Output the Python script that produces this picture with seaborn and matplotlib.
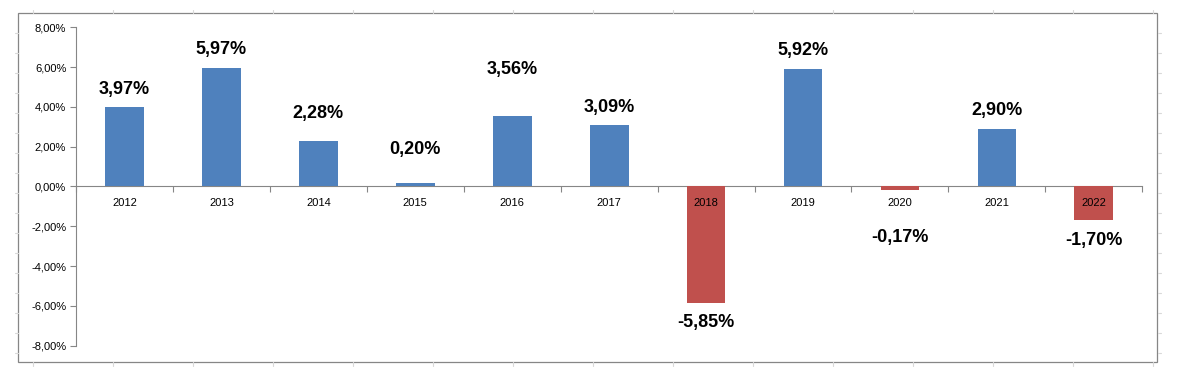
import numpy as np
import pandas as pd
import matplotlib
matplotlib.use('Agg')
import matplotlib.pyplot as plt
import seaborn as sns
from matplotlib.ticker import FuncFormatter, FixedLocator
from matplotlib.lines import Line2D
from matplotlib.patches import Rectangle

# Données : rendement annuel (%)
annees = ['2012', '2013', '2014', '2015', '2016', '2017', '2018', '2019', '2020', '2021', '2022']
rendements = [3.97, 5.97, 2.28, 0.20, 3.56, 3.09, -5.85, 5.92, -0.17, 2.90, -1.70]

# décalage supplémentaire des étiquettes (px), comme dans le graphique d'origine
decalage_extra = [0, 0, 10, 15, 28, 0, 0, 0, 28, 0, 0]

BLEU = '#4F81BD'
ROUGE = '#C0504D'
GRIS = '#868686'

df = pd.DataFrame({'annee': annees, 'rendement': rendements})
df['signe'] = np.where(df['rendement'] >= 0, 'pos', 'neg')

sns.set_style('white')
plt.rcParams['font.family'] = ['Liberation Sans', 'DejaVu Sans']

W, H = 1177, 383
fig = plt.figure(figsize=(W / 100, H / 100), dpi=100)
ax = fig.add_axes([76 / W, 1 - 345.7 / H, (1142.3 - 76) / W, (345.7 - 27.3) / H])

sns.barplot(data=df, x='annee', y='rendement', hue='signe',
            palette={'pos': BLEU, 'neg': ROUGE}, dodge=False, width=0.4,
            legend=False, saturation=1, linewidth=0, edgecolor='none', ax=ax)

ax.set_xlim(-0.5, len(annees) - 0.5)
ax.set_ylim(-8, 8)
ax.set_xlabel('')
ax.set_ylabel('')
ax.set_axisbelow(False)

# axe Y
ax.set_yticks(np.arange(-8, 9, 2))
ax.yaxis.set_major_formatter(FuncFormatter(lambda v, p: f'{v:.2f}%'.replace('.', ',')))
ax.tick_params(axis='y', direction='out', length=4, width=0.8, color=GRIS,
               labelsize=8, labelcolor='black', pad=3, left=True)

# axe X au niveau de zéro
for s in ['top', 'right']:
    ax.spines[s].set_visible(False)
ax.spines['left'].set_color(GRIS)
ax.spines['left'].set_linewidth(0.8)
ax.spines['bottom'].set_position(('data', 0))
ax.spines['bottom'].set_color(GRIS)
ax.spines['bottom'].set_linewidth(0.8)
ax.spines['bottom'].set_zorder(0.5)

ax.xaxis.set_major_locator(FixedLocator(np.arange(-0.5, len(annees), 1)))
ax.xaxis.set_minor_locator(FixedLocator(np.arange(len(annees))))
ax.set_xticklabels([], minor=False)
ax.set_xticklabels(annees, minor=True)
ax.tick_params(axis='x', which='major', direction='out', length=4, width=0.8,
               color=GRIS, bottom=True)
ax.tick_params(axis='x', which='minor', length=0, labelsize=8, pad=8,
               labelcolor='black', bottom=True)

# étiquettes de valeurs
for i, v in enumerate(rendements):
    base = 18 if v >= 0 else 20
    off = (base + decalage_extra[i]) * 0.72
    txt = f'{v:.2f}%'.replace('.', ',')
    ax.annotate(txt, xy=(i, v), xytext=(0, off if v >= 0 else -off),
                textcoords='offset points', ha='center', va='center',
                fontsize=13, fontweight='bold', color='black')

# cadre du graphique
fig.patches.append(Rectangle((18.3 / W, 1 - 361.7 / H), (1157.3 - 18.3) / W,
                             (361.7 - 13.3) / H, transform=fig.transFigure,
                             fill=False, edgecolor=GRIS, linewidth=0.9))

# traces de la grille des cellules autour du graphique
gc = '#d9d9d9'
for x in range(33, 1160, 80):
    fig.add_artist(Line2D([x / W, x / W], [1 - 10 / H, 1 - 13 / H], color=gc, lw=0.8))
    fig.add_artist(Line2D([x / W, x / W], [1 - 362 / H, 1 - 366 / H], color=gc, lw=0.8))
for y in range(33, 362, 20):
    fig.add_artist(Line2D([15 / W, 18 / W], [1 - y / H, 1 - y / H], color=gc, lw=0.8))
    fig.add_artist(Line2D([1157.5 / W, 1161 / W], [1 - y / H, 1 - y / H], color=gc, lw=0.8))

fig.savefig('out.png', dpi=100, facecolor='white')
